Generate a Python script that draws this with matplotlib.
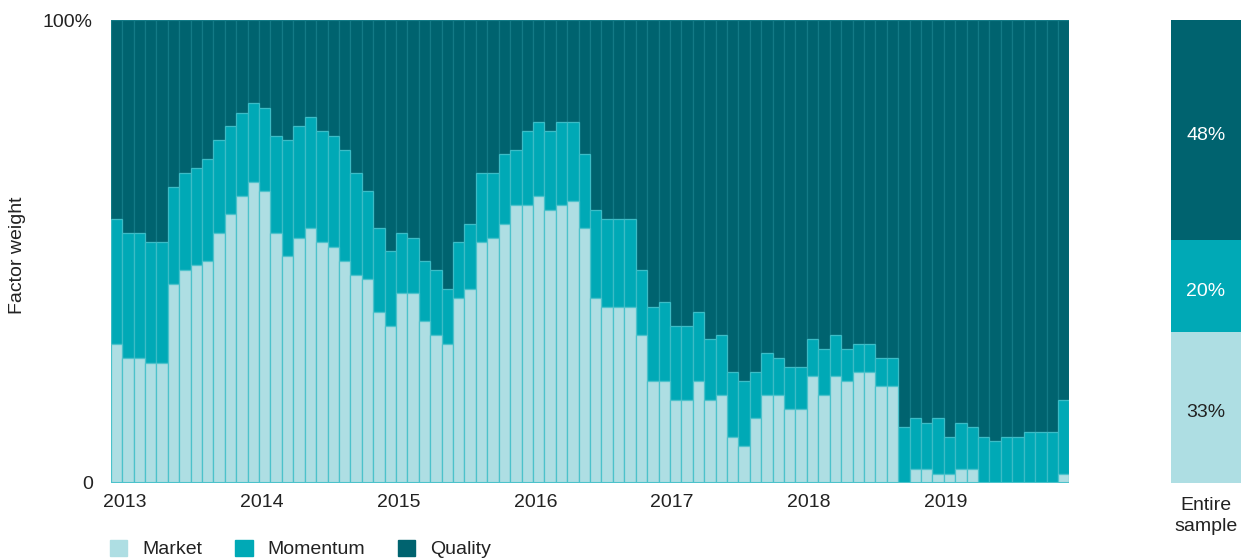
import matplotlib
matplotlib.use("Agg")
import matplotlib.pyplot as plt
import numpy as np

plt.rcParams['font.family'] = ['Liberation Sans', 'DejaVu Sans']

years = ['2013', '2014', '2015', '2016', '2017', '2018', '2019']
market = [30, 27, 27, 26, 26, 43, 46, 47, 48, 54, 58, 62,
          65, 63, 54, 49, 53, 55, 52, 51, 48, 45, 44, 37,
          34, 41, 41, 35, 32, 30, 40, 42, 52, 53, 56, 60,
          60, 62, 59, 60, 61, 55, 40, 38, 38, 38, 32, 22,
          22, 18, 18, 22, 18, 19, 10, 8, 14, 19, 19, 16,
          16, 23, 19, 23, 22, 24, 24, 21, 21, 0, 3, 3,
          2, 2, 3, 3, 0, 0, 0, 0, 0, 0, 0, 2]
momentum = [27, 27, 27, 26, 26, 21, 21, 21, 22, 20, 19, 18,
            17, 18, 21, 25, 24, 24, 24, 24, 24, 22, 19, 18,
            16, 13, 12, 13, 14, 12, 12, 14, 15, 14, 15, 12,
            16, 16, 17, 18, 17, 16, 19, 19, 19, 19, 14, 16,
            17, 16, 16, 15, 13, 13, 14, 14, 10, 9, 8, 9,
            9, 8, 10, 9, 7, 6, 6, 6, 6, 12, 11, 10,
            12, 8, 10, 9, 10, 9, 10, 10, 11, 11, 11, 16]
quality = [100 - a - b for a, b in zip(market, momentum)]

sample_labels = ['Market', 'Momentum', 'Quality']
sample_values = [33, 20, 48]

c_mkt, c_mom, c_qual = '#aedee3', '#00a9b6', '#00636f'
e_mkt, e_mom, e_qual = '#4cc2cb', '#3bbcc6', '#137a86'
txt = '#222222'
FS = 14

fig = plt.figure(figsize=(12.41, 5.59), dpi=100)
ax = fig.add_axes([0.0892, 0.136, 0.7725, 0.8282])

x = np.arange(len(market))
mk = np.array(market)
mo = np.array(momentum)
qu = np.array(quality)
ax.bar(x, qu, bottom=mk + mo, width=1.0, color=c_qual, edgecolor=e_qual, linewidth=0.9)
ax.bar(x, mo, bottom=mk, width=1.0, color=c_mom, edgecolor=e_mom, linewidth=0.9)
ax.bar(x, mk, width=1.0, color=c_mkt, edgecolor=e_mkt, linewidth=0.9)
ax.axhline(0, color=e_mkt, linewidth=1.5)

ax.set_xlim(-0.5, len(market) - 0.5)
ax.set_ylim(0, 100)
for s in ax.spines.values():
    s.set_visible(False)
ax.set_yticks([0, 100])
ax.set_yticklabels(['0', '100%'], fontsize=FS, color=txt)
ax.tick_params(axis='y', length=0, pad=13)
ax.set_xticks([i * 12 + 0.7 for i in range(len(years))])
ax.set_xticklabels(years, fontsize=FS, color=txt)
ax.tick_params(axis='x', length=0, pad=8)
fig.text(18 / 1241, 1 - 255 / 559, 'Factor weight', rotation=90, ha='center', va='center',
         fontsize=FS, color=txt)

handles = [plt.Rectangle((0, 0), 1, 1, color=c) for c in (c_mkt, c_mom, c_qual)]
fig.legend(handles, sample_labels, loc='center left', bbox_to_anchor=(110 / 1241, 1 - 549 / 559),
           ncol=3, frameon=False, fontsize=FS, handlelength=0.9, handleheight=0.9,
           columnspacing=1.7, handletextpad=0.75, labelcolor=txt,
           borderpad=0, borderaxespad=0)

# Entire sample panel
ax2 = fig.add_axes([0.9436, 0.136, 0.0564, 0.8282])
bottoms = np.cumsum([0] + sample_values[:-1])
cols = [c_mkt, c_mom, c_qual]
tcols = [txt, 'white', 'white']
for v, b, c, tc in zip(sample_values, bottoms, cols, tcols):
    ax2.bar(0, v, bottom=b, width=1.0, color=c, linewidth=0)
    ax2.text(0, b + v / 2 - 1.2, f'{v}%', ha='center', va='center', fontsize=FS, color=tc)
ax2.set_xlim(-0.5, 0.5)
ax2.set_ylim(0, 101)
for s in ax2.spines.values():
    s.set_visible(False)
ax2.set_yticks([])
ax2.set_xticks([0])
ax2.set_xticklabels(['Entire\nsample'], fontsize=FS, color=txt, linespacing=1.3)
ax2.tick_params(axis='x', length=0, pad=10)

fig.savefig('out.png', dpi=100)
